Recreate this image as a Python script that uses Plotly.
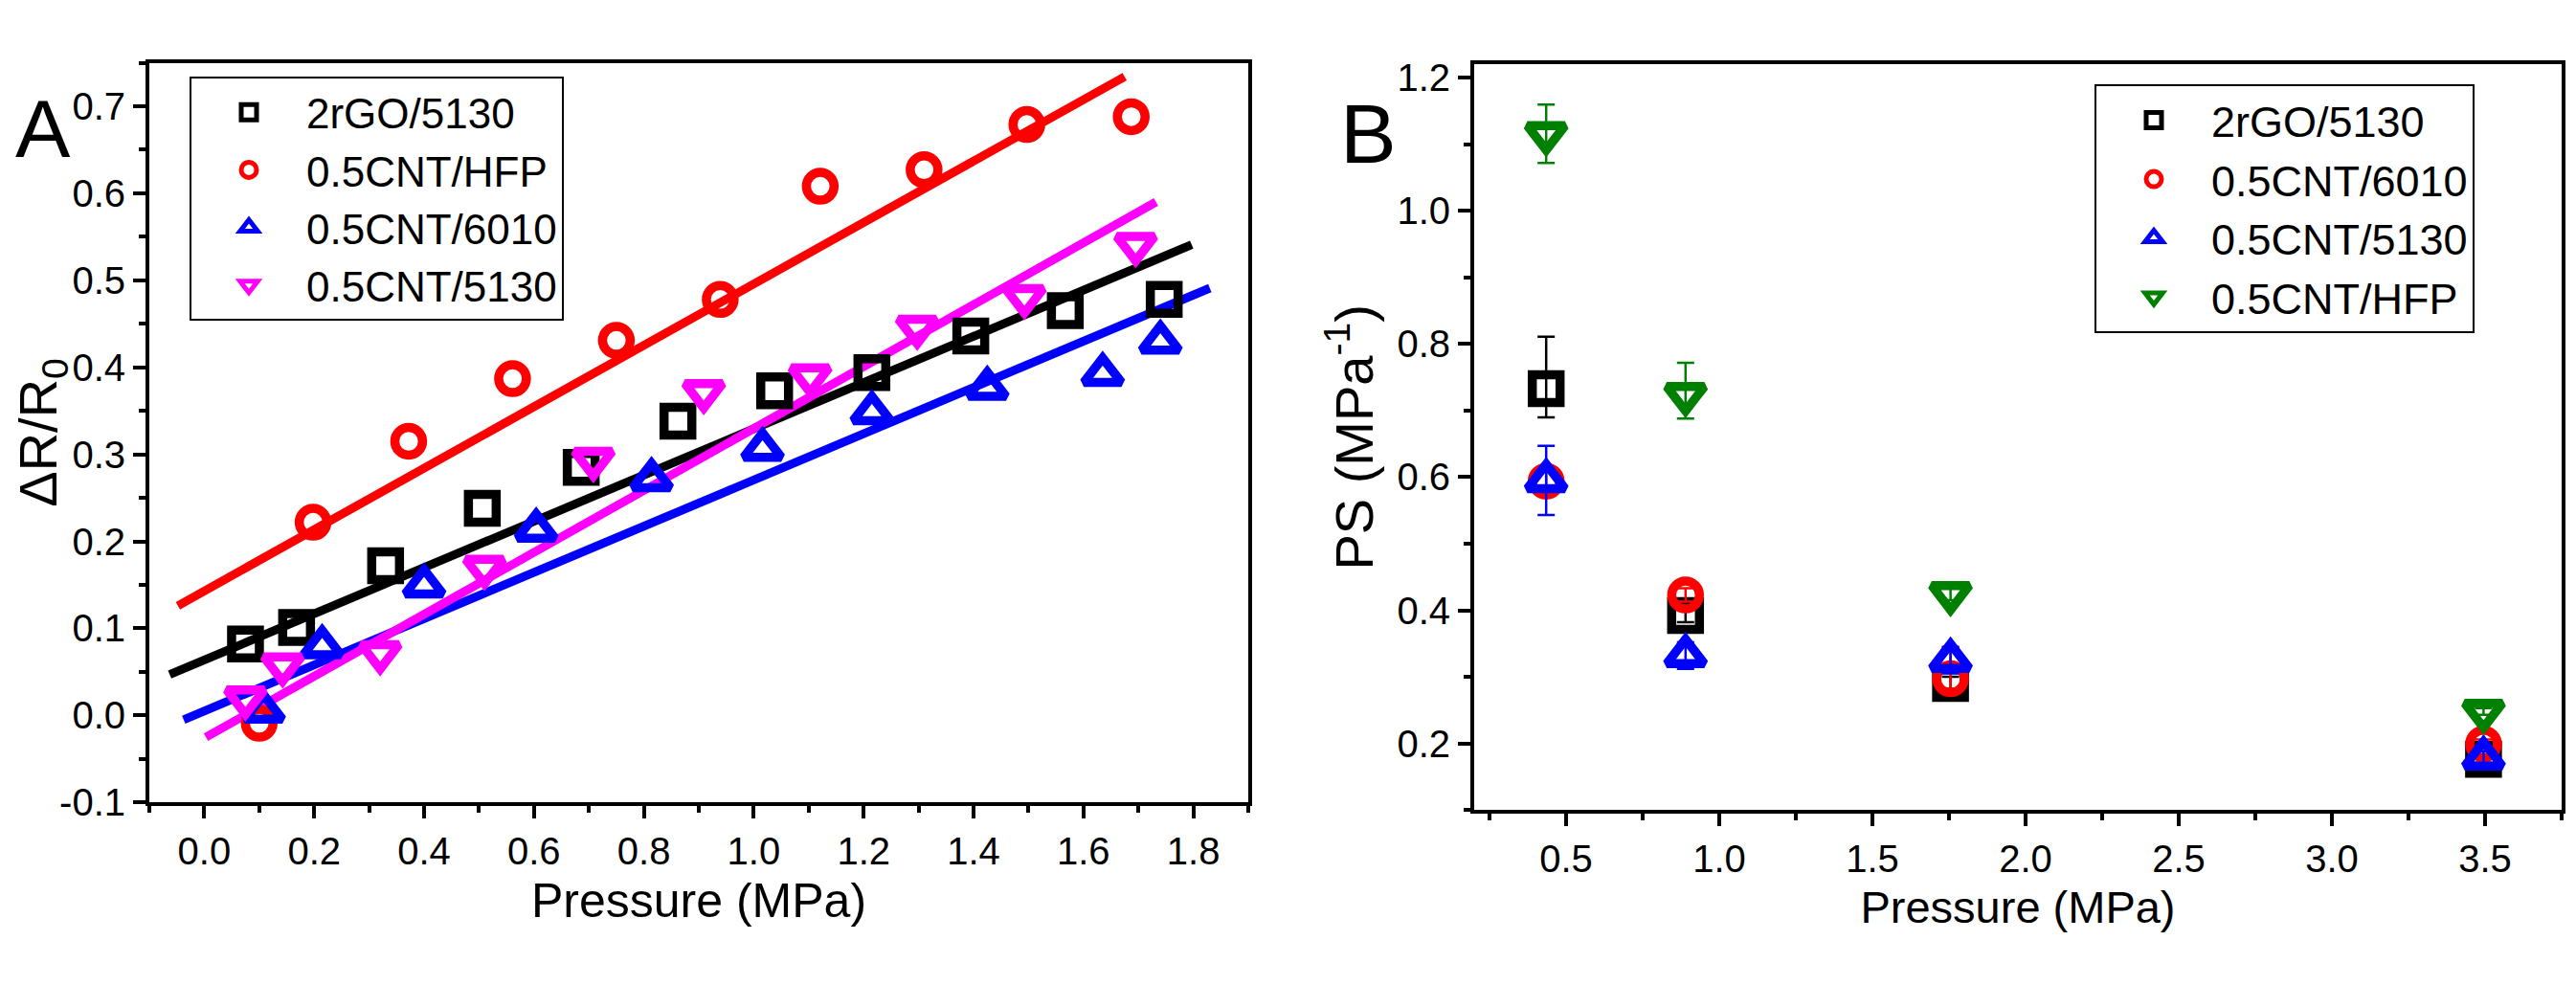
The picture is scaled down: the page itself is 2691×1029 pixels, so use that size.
import plotly.graph_objects as go

# ---- panel A data: relative resistance change vs pressure ----
names_a = ["2rGO/5130", "0.5CNT/HFP", "0.5CNT/6010", "0.5CNT/5130"]
colors_a = ["#000000", "#FF0000", "#0000FF", "#FF00FF"]
symbols_a = ["square-open", "circle-open", "triangle-up-open", "triangle-down-open"]

x_rgo5130 = [0.075, 0.168, 0.33, 0.506, 0.686, 0.862, 1.038, 1.215, 1.395, 1.567, 1.747]
y_rgo5130 = [0.082, 0.101, 0.172, 0.238, 0.285, 0.338, 0.373, 0.394, 0.436, 0.465, 0.478]

x_cnt_hfp = [0.10, 0.198, 0.372, 0.561, 0.75, 0.939, 1.121, 1.31, 1.497, 1.687]
y_cnt_hfp = [-0.009, 0.222, 0.315, 0.387, 0.431, 0.478, 0.608, 0.627, 0.679, 0.688]

x_cnt6010 = [0.108, 0.2145, 0.40, 0.604, 0.814, 1.016, 1.215, 1.425, 1.635, 1.74]
y_cnt6010 = [0.005, 0.079, 0.149, 0.213, 0.271, 0.306, 0.348, 0.376, 0.392, 0.429]

x_cnt5130 = [0.075, 0.1425, 0.32, 0.51, 0.708, 0.909, 1.1025, 1.2975, 1.4925, 1.695]
y_cnt5130 = [0.020, 0.058, 0.072, 0.17, 0.294, 0.372, 0.39, 0.446, 0.481, 0.541]

# linear fit lines (end points)
fit_x_rgo5130 = [-0.063, 1.797]
fit_y_rgo5130 = [0.047, 0.541]
fit_x_cnt_hfp = [-0.048, 1.675]
fit_y_cnt_hfp = [0.126, 0.734]
fit_x_cnt6010 = [-0.0375, 1.83]
fit_y_cnt6010 = [-0.005, 0.491]
fit_x_cnt5130 = [0.003, 1.732]
fit_y_cnt5130 = [-0.025, 0.59]

ytick_vals_a = [-0.1, 0.0, 0.1, 0.2, 0.3, 0.4, 0.5, 0.6, 0.7]
ytick_text_a = ["-0.1", "0.0", "0.1", "0.2", "0.3", "0.4", "0.5", "0.6", "0.7"]

# ---- panel B data: pressure sensitivity ----
names_b = ["2rGO/5130", "0.5CNT/6010", "0.5CNT/5130", "0.5CNT/HFP"]
colors_b = ["#000000", "#FF0000", "#0000FF", "#008000"]
symbols_b = ["square-open", "circle-open", "triangle-up-open", "triangle-down-open"]

x_pressure_b = [0.435, 0.89, 1.755, 3.495]
ps_rgo5130 = [0.733, 0.392, 0.29, 0.176]
ps_cnt6010 = [0.594, 0.423, 0.297, 0.199]
ps_cnt5130 = [0.595, 0.332, 0.325, 0.178]
ps_cnt_hfp = [1.116, 0.724, 0.425, 0.248]
err_up_rgo5130 = [0.078, 0.01, 0.01, 0.005]
err_dn_rgo5130 = [0.043, 0.01, 0.01, 0.005]
err_up_cnt6010 = [0.02, 0.01, 0.047, 0.007]
err_dn_cnt6010 = [0.02, 0.01, 0.015, 0.007]
err_up_cnt5130 = [0.052, 0.02, 0.02, 0.01]
err_dn_cnt5130 = [0.052, 0.02, 0.02, 0.01]
err_up_cnt_hfp = [0.044, 0.048, 0.01, 0.005]
err_dn_cnt_hfp = [0.044, 0.036, 0.01, 0.005]

FONT = "Liberation Sans, Arial, sans-serif"
W, H = 2691, 1029

fig = go.Figure()

# fit lines under the markers
fits_a = [
    (fit_x_rgo5130, fit_y_rgo5130),
    (fit_x_cnt_hfp, fit_y_cnt_hfp),
    (fit_x_cnt6010, fit_y_cnt6010),
    (fit_x_cnt5130, fit_y_cnt5130),
]
for (fx, fy), c in zip(fits_a, colors_a):
    fig.add_trace(go.Scatter(
        x=fx, y=fy, mode="lines", line=dict(color=c, width=9),
        showlegend=False, hoverinfo="skip", xaxis="x", yaxis="y",
    ))

pts_a = [
    (x_rgo5130, y_rgo5130),
    (x_cnt_hfp, y_cnt_hfp),
    (x_cnt6010, y_cnt6010),
    (x_cnt5130, y_cnt5130),
]
for (px_, py_), n, c, s in zip(pts_a, names_a, colors_a, symbols_a):
    size = 29 if "triangle" not in s else 34
    fig.add_trace(go.Scatter(
        x=px_, y=py_, mode="markers", name=n,
        marker=dict(symbol=s, size=size, color=c, line=dict(color=c, width=9.5)),
        xaxis="x", yaxis="y", legend="legend",
    ))

pts_b = [
    (ps_rgo5130, err_up_rgo5130, err_dn_rgo5130),
    (ps_cnt6010, err_up_cnt6010, err_dn_cnt6010),
    (ps_cnt5130, err_up_cnt5130, err_dn_cnt5130),
    (ps_cnt_hfp, err_up_cnt_hfp, err_dn_cnt_hfp),
]
for (py_, eu, ed), n, c, s in zip(pts_b, names_b, colors_b, symbols_b):
    size = 29 if "triangle" not in s else 34
    fig.add_trace(go.Scatter(
        x=x_pressure_b, y=py_, mode="markers", name=n,
        marker=dict(symbol=s, size=size, color=c, line=dict(color=c, width=9.5)),
        error_y=dict(type="data", array=eu, arrayminus=ed, symmetric=False,
                     color=c, thickness=2.5, width=9),
        xaxis="x2", yaxis="y2", legend="legend2",
    ))

axis_common = dict(
    showline=True, linecolor="black", linewidth=4, mirror=True,
    ticks="outside", ticklen=13, tickwidth=4, tickcolor="black",
    showgrid=False, zeroline=False,
    tickfont=dict(family=FONT, size=40, color="black"),
)

fig.update_layout(
    width=W, height=H, autosize=False,
    margin=dict(l=0, r=0, t=0, b=0),
    paper_bgcolor="white", plot_bgcolor="white",
    font=dict(family=FONT, color="black"),
    xaxis=dict(
        domain=[148 / W, 1296 / W], anchor="y",
        range=[-0.1, 1.9], tick0=0, dtick=0.2, tickformat=".1f",
        minor=dict(dtick=0.1, tick0=0, ticks="outside", ticklen=7, tickwidth=4, tickcolor="black"),
        title=dict(text="Pressure (MPa)", font=dict(family=FONT, size=50), standoff=14),
        **axis_common,
    ),
    yaxis=dict(
        domain=[1 - 847 / H, 1 - 51 / H], anchor="x",
        range=[-0.1, 0.75], tickvals=ytick_vals_a, ticktext=ytick_text_a,
        minor=dict(dtick=0.05, tick0=0, ticks="outside", ticklen=7, tickwidth=4, tickcolor="black"),
        title=dict(text="ΔR/R<sub>0</sub>", font=dict(family=FONT, size=56), standoff=4),
        **axis_common,
    ),
    xaxis2=dict(
        domain=[1532 / W, 2668 / W], anchor="y2",
        range=[0.2, 3.75], tick0=0, dtick=0.5, tickformat=".1f",
        minor=dict(dtick=0.25, tick0=0, ticks="outside", ticklen=7, tickwidth=4, tickcolor="black"),
        title=dict(text="Pressure (MPa)", font=dict(family=FONT, size=47), standoff=14),
        **axis_common,
    ),
    yaxis2=dict(
        domain=[1 - 855 / H, 1 - 53 / H], anchor="x2",
        range=[0.1, 1.22], tick0=0, dtick=0.2, tickformat=".1f",
        minor=dict(dtick=0.1, tick0=0, ticks="outside", ticklen=7, tickwidth=4, tickcolor="black"),
        title=dict(text="PS (MPa<sup>-1</sup>)", font=dict(family=FONT, size=56), standoff=8),
        **axis_common,
    ),
    legend=dict(
        x=190 / W, y=1 - 66 / H, xanchor="left", yanchor="top",
        bgcolor="white", bordercolor="black", borderwidth=2,
        font=dict(family=FONT, size=44, color="black"),
        itemwidth=110, tracegroupgap=0,
    ),
    legend2=dict(
        x=2180 / W, y=1 - 74 / H, xanchor="left", yanchor="top",
        bgcolor="white", bordercolor="black", borderwidth=2,
        font=dict(family=FONT, size=45, color="black"),
        itemwidth=110, tracegroupgap=0,
    ),
    annotations=[
        dict(text="A", x=6 / W, y=1 - 122 / H, xref="paper", yref="paper",
             xanchor="left", yanchor="middle", showarrow=False,
             font=dict(family=FONT, size=86, color="black")),
        dict(text="B", x=1390 / W, y=1 - 127 / H, xref="paper", yref="paper",
             xanchor="left", yanchor="middle", showarrow=False,
             font=dict(family=FONT, size=88, color="black")),
    ],
)

fig.write_html("out.html")
